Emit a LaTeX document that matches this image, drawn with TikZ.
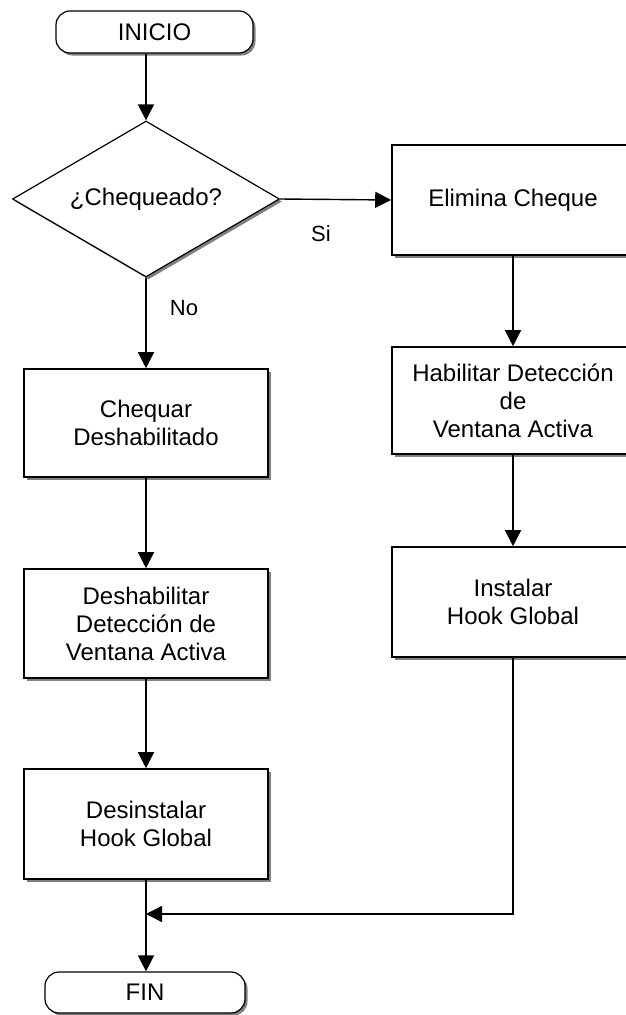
\documentclass[tikz,border=0pt]{standalone}
\usepackage{fontspec}
\setmainfont{Liberation Sans}
\usetikzlibrary{shapes.geometric,shadows,arrows.meta}

\begin{document}
\begin{tikzpicture}[x=1pt,y=-1pt,
  every node/.style={font=\fontsize{24}{28}\selectfont},
  boxshadow/.style={drop shadow={shadow xshift=2.5pt,shadow yshift=-2.5pt,fill=black!50,opacity=1}},
  procbox/.style={draw,line width=1.6pt,fill=white,boxshadow,align=center,inner sep=0pt,
                  minimum width=244pt,minimum height=109pt},
  terminal/.style={draw,line width=1.2pt,fill=white,boxshadow,rectangle,rounded corners=14pt,
                   inner sep=0pt,minimum height=42pt},
  decision/.style={diamond,draw,line width=1.2pt,fill=white,boxshadow,inner sep=0pt,
                   shape aspect=1.7,minimum width=267pt,minimum height=156pt},
  flow/.style={line width=1.4pt,-{Triangle[length=16pt,width=16pt]}},
  tag/.style={inner sep=0pt,font=\fontsize{22}{26}\selectfont}
]
\useasboundingbox (0,0) rectangle (626,1015);
\fill[white] (0,0) rectangle (626,1015);
\clip (0,0) rectangle (626,1015);

% start / end terminals
\node[terminal,minimum width=197pt] (inicio) at (154.5,32) {INICIO};
\node[terminal,minimum width=200pt,minimum height=41pt] (fin) at (145,992.5) {FIN};

% decision
\node[decision] (chk) at (146,199) {¿Chequeado?};

% left branch
\node[procbox,minimum height=108pt] (chq) at (146,423) {Chequar\\Deshabilitado};
\node[procbox] (dsh) at (146,623.5) {Deshabilitar\\Detección de\\Ventana Activa};
\node[procbox,minimum height=110pt] (uni) at (146,824) {Desinstalar\\Hook Global};

% right branch
\node[procbox,minimum width=242pt,minimum height=110pt] (eli) at (513,200) {Elimina Cheque};
\node[procbox,minimum width=242pt,minimum height=107pt] (hab) at (513,400.5) {Habilitar Detección\\de\\Ventana Activa};
\node[procbox,minimum width=242pt,minimum height=110pt] (ins) at (513,602) {Instalar\\Hook Global};

% branch labels
\node[tag] (si) at (321,233.5) {Si};
\node[tag] (no) at (184,308) {No};

% join point of both branches
\coordinate (join) at (146,914);

% connectors
\draw[flow] (chk.north |- inicio.south) -- (chk.north);
\draw[flow] (chk.east) -- (eli.west);
\draw[flow] (chk.south) -- (chq.north);
\draw[flow] (chq.south) -- (dsh.north);
\draw[flow] (dsh.south) -- (uni.north);
\draw[flow] (eli.south) -- (hab.north);
\draw[flow] (hab.south) -- (ins.north);
\draw[flow] (ins.south) |- (join);
\draw[flow] (uni.south) -- (fin.north -| uni.south);
\end{tikzpicture}
\end{document}
